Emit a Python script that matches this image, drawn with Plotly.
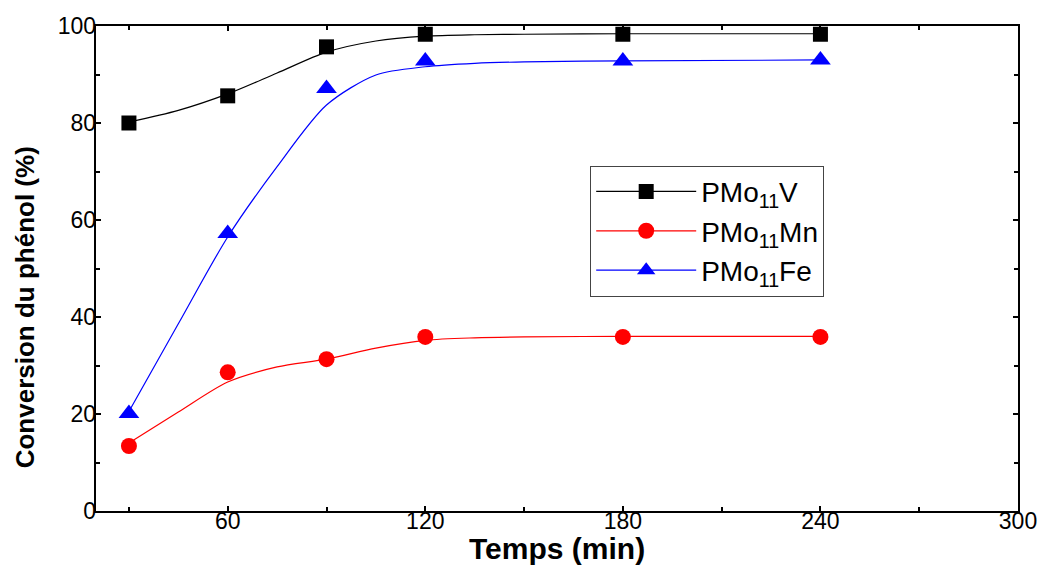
import plotly.graph_objects as go

# Measured conversions (%) vs reaction time (min)
time_min = [30, 60, 90, 120, 180, 240]
conv_v = [80.0, 85.6, 95.7, 98.3, 98.3, 98.3]
conv_mn = [13.4, 28.6, 31.3, 35.9, 35.9, 35.9]
conv_fe = [20.1, 57.2, 87.1, 92.8, 92.8, 93.0]

# Smoothed fit curves through the kinetics
fit_time = [30, 45, 60, 75, 90, 105, 120, 135, 150, 180, 240]
fit_v = [80.2, 82.6, 86.0, 90.3, 94.6, 96.9, 97.9, 98.2, 98.3, 98.4, 98.4]
fit_mn = [14.0, 20.4, 26.6, 29.7, 31.3, 33.6, 35.2, 35.7, 35.9, 36.0, 36.0]
fit_fe = [20.5, 38.6, 56.5, 71.0, 83.7, 89.9, 91.6, 92.3, 92.6, 92.8, 93.0]

series_names = ["PMo<sub>11</sub>V", "PMo<sub>11</sub>Mn", "PMo<sub>11</sub>Fe"]
colors = ["black", "red", "blue"]
symbols = ["square", "circle", "triangle-up"]
marker_sizes = [15, 16, 18]

x_ticks = [60, 120, 180, 240, 300]
y_ticks = [0, 20, 40, 60, 80, 100]
x_range = [20, 300]
y_range = [0, 100]

FONT = "Liberation Sans, Arial, sans-serif"

fig = go.Figure()

for fy, col in zip([fit_v, fit_mn, fit_fe], colors):
    fig.add_trace(go.Scatter(
        x=fit_time, y=fy, mode="lines",
        line=dict(color=col, width=1.2, shape="spline", smoothing=0.8),
        showlegend=False, hoverinfo="skip",
    ))

for ys, col, sym, ms in zip([conv_v, conv_mn, conv_fe], colors, symbols, marker_sizes):
    fig.add_trace(go.Scatter(
        x=time_min, y=ys, mode="markers",
        marker=dict(color=col, symbol=sym, size=ms, line=dict(width=0)),
        showlegend=False,
    ))

# Legend entries (line + marker); they live on the label-carrying axes
for name, col, sym, ms in zip(series_names, colors, symbols, marker_sizes):
    fig.add_trace(go.Scatter(
        x=[None], y=[None], mode="lines+markers", name=name,
        xaxis="x2", yaxis="y2",
        line=dict(color=col, width=1.2),
        marker=dict(color=col, symbol=sym, size=ms),
    ))

frame = dict(
    showline=True, linecolor="black", linewidth=2, mirror="ticks",
    ticks="inside", ticklen=5, tickwidth=1.5, tickcolor="black",
    showgrid=False, zeroline=False, automargin=False, showticklabels=False,
)
minor_style = dict(ticks="inside", ticklen=4, tickwidth=1.5, tickcolor="black")

fig.update_layout(
    xaxis=dict(range=x_range, tickvals=x_ticks,
               minor=dict(tickvals=[30, 90, 150, 210, 270], **minor_style), **frame),
    yaxis=dict(range=y_range, tickvals=y_ticks,
               minor=dict(tickvals=[10, 30, 50, 70, 90], **minor_style), **frame),
    # label axes sit snug against the frame
    xaxis2=dict(range=x_range, tickvals=x_ticks, ticktext=[str(v) for v in x_ticks],
                overlaying="x", anchor="free", position=0.012, side="bottom",
                showline=False, ticks="", showgrid=False, zeroline=False,
                automargin=False,
                tickfont=dict(family=FONT, size=23, color="black")),
    yaxis2=dict(range=y_range, tickvals=y_ticks, ticktext=[str(v) for v in y_ticks],
                overlaying="y", anchor="free", position=0.0, side="left",
                showline=False, ticks="", showgrid=False, zeroline=False,
                automargin=False,
                tickfont=dict(family=FONT, size=23, color="black")),
)

fig.add_annotation(
    text="<b>Temps (min)</b>",
    xref="paper", yref="paper", x=0.5, y=-0.077,
    xanchor="center", yanchor="middle", showarrow=False,
    font=dict(family=FONT, size=30, color="black"),
)
fig.add_annotation(
    text="<b>Conversion du phénol (%)</b>", textangle=-90,
    xref="paper", yref="paper", x=-0.077, y=0.42,
    xanchor="center", yanchor="middle", showarrow=False,
    font=dict(family=FONT, size=26, color="black"),
)

fig.update_layout(
    width=1043, height=567,
    margin=dict(l=96, r=25, t=26, b=56),
    paper_bgcolor="white", plot_bgcolor="white",
    legend=dict(
        x=0.536, y=0.712, xanchor="left", yanchor="top",
        bordercolor="#444444", borderwidth=1, bgcolor="white",
        font=dict(family=FONT, size=28, color="black"),
        itemwidth=100, tracegroupgap=0,
    ),
)

fig.write_html("out.html")
